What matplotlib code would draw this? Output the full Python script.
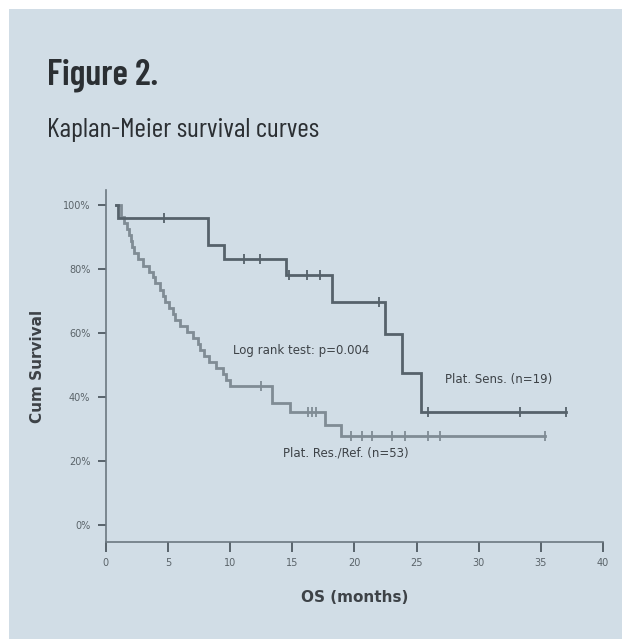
import matplotlib
matplotlib.use("Agg")
import matplotlib.pyplot as plt
from matplotlib.patches import Rectangle

# ---------------- data ----------------
# Platinum-sensitive group: step start times (months) and survival (%) after each step
sens_times = [0.8, 1.0, 8.2, 9.5, 14.5, 18.2, 22.5, 23.8, 25.4]
sens_surv = [100.0, 96.0, 87.5, 83.1, 78.1, 69.6, 59.6, 47.4, 35.4]
sens_end = 37.0
sens_censor_t = [4.7, 11.1, 12.4, 14.75, 16.2, 17.2, 22.0, 25.9, 33.3, 37.0]

# Platinum-resistant/refractory group
res_times = [0.8, 1.2, 1.45, 1.7, 1.9, 2.0, 2.15, 2.3, 2.6, 3.0, 3.5, 3.8, 4.0,
             4.4, 4.6, 4.8, 5.1, 5.4, 5.6, 6.0, 6.5, 7.0, 7.4, 7.6, 7.9, 8.3,
             8.9, 9.4, 9.7, 10.0, 13.4, 14.8, 17.6, 18.9]
res_surv = [100.0, 96.2, 94.3, 92.5, 90.6, 88.7, 86.8, 84.9, 83.0, 81.1, 79.2,
            77.4, 75.5, 73.6, 71.7, 69.8, 67.9, 66.0, 64.2, 62.3, 60.4, 58.5,
            56.6, 54.7, 52.8, 50.9, 49.1, 47.2, 45.3, 43.4, 38.0, 35.4, 31.3, 27.9]
res_end = 35.3
res_censor_t = [12.5, 16.3, 16.6, 16.9, 19.7, 20.6, 21.4, 23.0, 24.1, 25.9, 26.9, 35.3]

x_ticks = [0, 5, 10, 15, 20, 25, 30, 35, 40]
x_ticklabels = ["0", "5", "10", "15", "20", "25", "30", "35", "40"]
y_ticks = [0, 20, 40, 60, 80, 100]
y_ticklabels = ["0%", "20%", "40%", "60%", "80%", "100%"]

title = "Figure 2."
subtitle = "Kaplan-Meier survival curves"
xlabel = "OS (months)"
ylabel = "Cum Survival"
logrank_text = "Log rank test: p=0.004"
sens_label = "Plat. Sens. (n=19)"
res_label = "Plat. Res./Ref. (n=53)"

# ---------------- styling ----------------
W, H = 622, 639
bg = "#d1dde6"
sens_color = "#56626b"
res_color = "#808c95"
axis_color = "#6c7881"
text_color = "#3d4247"

fig = plt.figure(figsize=(W / 100, H / 100), dpi=100, facecolor="white")
fig.patches.append(Rectangle((9 / W, 0), 1 - 9 / W, (H - 9) / H,
                             transform=fig.transFigure, facecolor=bg,
                             edgecolor="none", zorder=-5))

cond = ["Barlow Condensed", "DejaVu Sans"]
fig.text(47 / W, 1 - 84.5 / H, title, family=cond, fontweight="semibold",
         fontsize=26, color="#2b2f33", va="baseline", ha="left")
fig.text(47 / W, 1 - 137 / H, subtitle, family=cond, fontweight="normal",
         fontsize=20, color="#2b2f33", va="baseline", ha="left")

# axes box: x=0 at px 105.7, x=40 at px 603; y axis from px 190 to 542
ax_left, ax_right = 105.7, 603.0
ax_top, ax_bottom = 190.0, 542.0
ax = fig.add_axes([ax_left / W, 1 - ax_bottom / H,
                   (ax_right - ax_left) / W, (ax_bottom - ax_top) / H])
ax.set_facecolor("none")
ax.set_xlim(0, 40)
ax.set_ylim(-5.3, 104.7)

for s in ["top", "right"]:
    ax.spines[s].set_visible(False)
for s in ["left", "bottom"]:
    ax.spines[s].set_color(axis_color)
    ax.spines[s].set_linewidth(1.2)

ax.set_xticks(x_ticks)
ax.set_xticklabels(x_ticklabels)
ax.set_yticks(y_ticks)
ax.set_yticklabels(y_ticklabels)
ax.tick_params(axis="x", direction="out", length=7.5, width=1.3,
               color="#4f5a62", labelsize=7, labelcolor="#5a6369", pad=4)
ax.tick_params(axis="y", direction="out", length=6, width=1.3,
               color="#4f5a62", labelsize=7, labelcolor="#5a6369", pad=5)

# curves
def km(ax, times, surv, end, cens, color, z):
    xs = list(times) + [end]
    ys = list(surv) + [surv[-1]]
    ax.step(xs, ys, where="post", color=color, lw=2.0, zorder=z,
            solid_joinstyle="miter")
    cy = []
    for c in cens:
        lvl = surv[0]
        for t, s in zip(times, surv):
            if t <= c:
                lvl = s
        cy.append(lvl)
    ax.plot(cens, cy, linestyle="none", marker="|", markersize=7,
            markeredgewidth=1.3, color=color, zorder=z)

km(ax, res_times, res_surv, res_end, res_censor_t, res_color, 3)
km(ax, sens_times, sens_surv, sens_end, sens_censor_t, sens_color, 4)

ax.text(10.2, 54.4, logrank_text, fontsize=8.5, color=text_color,
        ha="left", va="center")
ax.text(27.3, 45.5, sens_label, fontsize=8.5, color=text_color,
        ha="left", va="center")
ax.text(14.3, 22.4, res_label, fontsize=8.5, color=text_color,
        ha="left", va="center")

fig.text(355 / W, 1 - 597 / H, xlabel, fontsize=11, fontweight="bold",
         color=text_color, ha="center", va="center")
fig.text(37 / W, 1 - 366 / H, ylabel, fontsize=11, fontweight="bold",
         color=text_color, ha="center", va="center", rotation=90)

fig.savefig("out.png", dpi=100, facecolor="white")
